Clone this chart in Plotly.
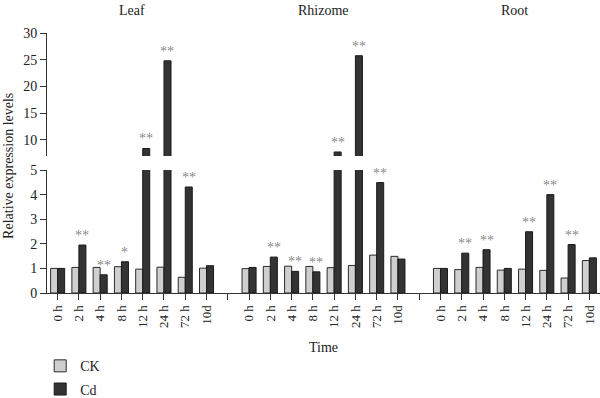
import plotly.graph_objects as go

groups = ["Leaf", "Rhizome", "Root"]
times = ["0 h", "2 h", "4 h", "8 h", "12 h", "24 h", "72 h", "10d"]

leaf_ck = [1.00, 1.04, 1.04, 1.07, 0.97, 1.05, 0.64, 1.01]
leaf_cd = [1.00, 1.95, 0.74, 1.27, 8.4, 24.8, 4.31, 1.11]
leaf_sig = ["", "**", "**", "*", "**", "**", "**", ""]

rhizome_ck = [0.99, 1.08, 1.09, 1.08, 1.03, 1.12, 1.54, 1.49]
rhizome_cd = [1.04, 1.46, 0.88, 0.86, 7.75, 25.75, 4.49, 1.38]
rhizome_sig = ["", "**", "**", "**", "**", "**", "**", ""]

root_ck = [1.00, 0.95, 1.04, 0.93, 0.97, 0.92, 0.61, 1.32]
root_cd = [1.00, 1.62, 1.76, 1.00, 2.49, 4.00, 1.97, 1.43]
root_sig = ["", "**", "**", "", "**", "**", "**", ""]

lower_ticks = [0, 1, 2, 3, 4, 5]
upper_ticks = [10, 15, 20, 25, 30]

ck_all = [leaf_ck, rhizome_ck, root_ck]
cd_all = [leaf_cd, rhizome_cd, root_cd]
sig_all = [leaf_sig, rhizome_sig, root_sig]

# positions: 8 categories per group with one empty slot between groups
xs, ck, cd, sig, ticktext = [], [], [], [], []
pos = 0
for gi in range(len(groups)):
    for ti, t in enumerate(times):
        xs.append(pos)
        ck.append(ck_all[gi][ti])
        cd.append(cd_all[gi][ti])
        sig.append(sig_all[gi][ti])
        ticktext.append(t)
        pos += 1
    pos += 1
last = xs[-1]
tickvals = list(range(last + 1))
tick_labels = [ticktext[xs.index(v)] if v in xs else "" for v in tickvals]

FONT = "Liberation Serif"
LOW_MAX = 5
UP_MIN, UP_MAX = 7.0, 30

fig = go.Figure()
ck_style = dict(color="#cfcfcf", line=dict(color="#2a2a2a", width=1))
cd_style = dict(color="#333333", line=dict(color="#1a1a1a", width=1))

fig.add_trace(go.Bar(x=xs, y=ck, name="CK", marker=ck_style, xaxis="x", yaxis="y",
                     offsetgroup="ck", legendgroup="ck"))
fig.add_trace(go.Bar(x=xs, y=cd, name="Cd", marker=cd_style, xaxis="x", yaxis="y",
                     offsetgroup="cd", legendgroup="cd"))
fig.add_trace(go.Bar(x=xs, y=ck, name="CK", marker=ck_style, xaxis="x", yaxis="y2",
                     offsetgroup="ck", legendgroup="ck", showlegend=False))
fig.add_trace(go.Bar(x=xs, y=cd, name="Cd", marker=cd_style, xaxis="x", yaxis="y2",
                     offsetgroup="cd", legendgroup="cd", showlegend=False))

annotations = []
bar_offset = 0.165
star_font = dict(family=FONT, size=14, color="#8a8a8a")
for x, v, s in zip(xs, cd, sig):
    if not s:
        continue
    yref = "y2" if v > LOW_MAX else "y"
    annotations.append(dict(x=x + bar_offset, y=v, xref="x", yref=yref, text=s,
                            showarrow=False, yanchor="bottom", xanchor="center",
                            yshift=0, font=star_font))

for gi, g in enumerate(groups):
    center = gi * 9 + 3.5
    annotations.append(dict(x=center, y=1, xref="x", yref="paper", text=g,
                            showarrow=False, yanchor="bottom", xanchor="center",
                            yshift=13, font=dict(family=FONT, size=14, color="#222")))

annotations.append(dict(x=-0.07, y=0.49, xref="paper", yref="paper",
                        text="Relative expression levels", textangle=-90,
                        xanchor="center", yanchor="middle",
                        showarrow=False, font=dict(family=FONT, size=14, color="#222")))
annotations.append(dict(x=0.5, y=-0.21, xref="paper", yref="paper", text="Time",
                        showarrow=False, yanchor="middle", xanchor="center",
                        font=dict(family=FONT, size=14, color="#222")))

axis_common = dict(ticks="outside", ticklen=6, tickcolor="#333", showline=True,
                   linecolor="#333", linewidth=1, showgrid=False, zeroline=False,
                   automargin=False)

fig.update_layout(
    width=600, height=398,
    margin=dict(l=47, r=0, t=33, b=105, autoexpand=False),
    paper_bgcolor="white", plot_bgcolor="white",
    barmode="group", bargap=0.34, bargroupgap=0,
    font=dict(family=FONT, size=13, color="#222"),
    xaxis=dict(range=[-0.5, last + 0.5], tickmode="array", tickvals=tickvals,
               ticktext=tick_labels, tickangle=-90, anchor="y",
               tickfont=dict(family=FONT, size=13, color="#222"), **axis_common),
    yaxis=dict(domain=[0, 0.473], range=[0, LOW_MAX], tickvals=lower_ticks,
               tickfont=dict(family=FONT, size=14, color="#222"), **axis_common),
    yaxis2=dict(domain=[0.527, 1], range=[UP_MIN, UP_MAX], tickvals=upper_ticks,
                anchor="x", tickfont=dict(family=FONT, size=14, color="#222"),
                **axis_common),
    legend=dict(xref="container", yref="container", x=0.067, y=0.12,
                xanchor="left", yanchor="top", orientation="v",
                font=dict(family=FONT, size=14, color="#222"),
                bgcolor="rgba(0,0,0,0)", tracegroupgap=2),
    annotations=annotations,
    showlegend=True,
)

fig.write_html("out.html", config={"displayModeBar": False},
               post_script="document.body.style.margin='0';document.body.style.padding='0';")
